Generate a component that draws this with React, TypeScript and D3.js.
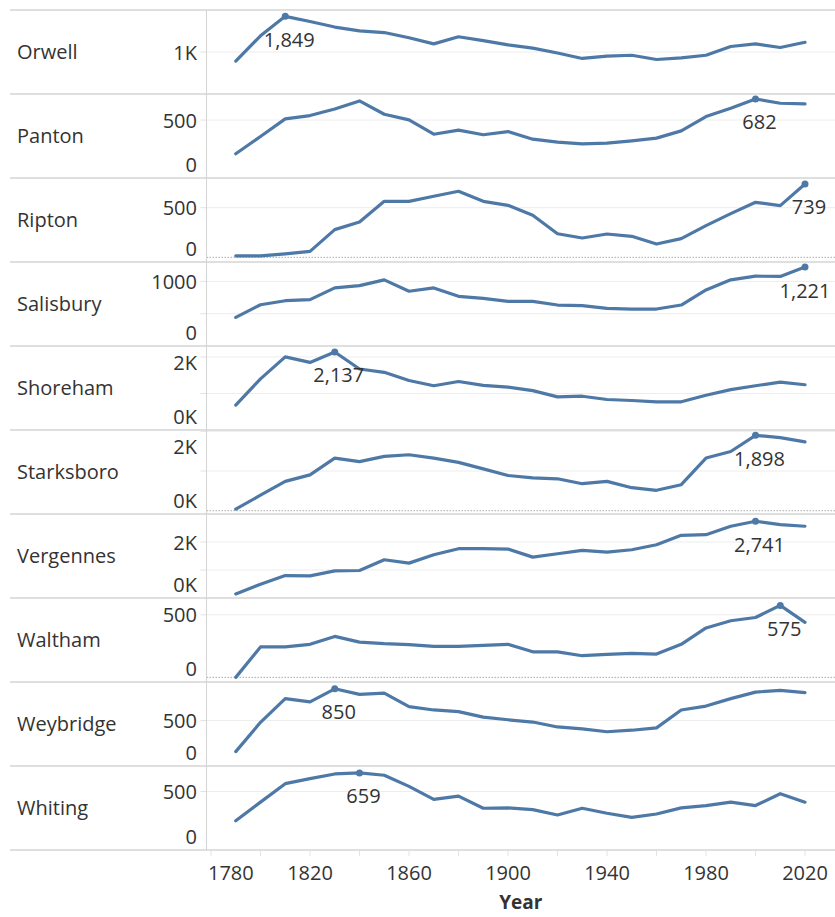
import * as d3 from 'd3';

const years = [1790, 1800, 1810, 1820, 1830, 1840, 1850, 1860, 1870, 1880, 1890, 1900,
  1910, 1920, 1930, 1940, 1950, 1960, 1970, 1980, 1990, 2000, 2010, 2020];

const towns = ['Orwell', 'Panton', 'Ripton', 'Salisbury', 'Shoreham',
  'Starksboro', 'Vergennes', 'Waltham', 'Weybridge', 'Whiting'];

const orwell = [784, 1386, 1849, 1726, 1594, 1502, 1463, 1340, 1193, 1363, 1270, 1170,
  1093, 977, 846, 900, 923, 822, 861, 923, 1131, 1193, 1108, 1232];
const panton = [209, 358, 510, 539, 596, 665, 550, 502, 378, 413, 373, 401,
  335, 310, 295, 301, 321, 344, 407, 530, 602, 682, 645, 639];
const ripton = [15, 15, 35, 60, 279, 356, 564, 564, 615, 665, 564, 524,
  423, 238, 195, 235, 212, 134, 188, 319, 440, 554, 521, 739];
const salisbury = [442, 639, 701, 717, 899, 935, 1024, 847, 899, 769, 738, 691,
  691, 634, 624, 582, 572, 572, 634, 868, 1024, 1081, 1076, 1221];
const shoreham = [682, 1401, 2002, 1850, 2137, 1670, 1580, 1356, 1212, 1329, 1221, 1176,
  1077, 907, 925, 835, 808, 772, 772, 952, 1104, 1212, 1311, 1239];
const starksboro = [41, 390, 738, 903, 1326, 1235, 1367, 1409, 1326, 1218, 1053, 887,
  829, 804, 680, 738, 580, 514, 655, 1326, 1492, 1898, 1840, 1732];
const vergennes = [144, 491, 802, 790, 970, 982, 1365, 1245, 1544, 1760, 1760, 1748,
  1460, 1580, 1700, 1640, 1724, 1903, 2238, 2262, 2562, 2741, 2621, 2562];
const waltham = [0, 243, 243, 264, 327, 282, 269, 261, 248, 248, 256, 264,
  204, 204, 173, 183, 191, 186, 264, 395, 452, 478, 575, 439];
const weybridge = [158, 481, 742, 706, 850, 789, 803, 653, 617, 599, 538, 509,
  484, 430, 409, 377, 394, 420, 617, 660, 742, 814, 832, 807];
const whiting = [250, 409, 567, 610, 650, 659, 639, 544, 432, 460, 357, 360,
  345, 299, 357, 314, 279, 308, 360, 380, 409, 380, 481, 409];

const series = [orwell, panton, ripton, salisbury, shoreham, starksboro, vergennes, waltham, weybridge, whiting];

// per-panel axis extents (independent axes)
const axisMin = [0, 0, -47, 0, 0, -83, 0, -37, 0, 0];
const axisMax = [2000, 725, 799, 1300, 2300, 2033, 3000, 634, 925, 718];

const gridValues = [[1000], [500], [500], [500, 1000], [1000, 2000], [1000, 2000],
  [1000, 2000], [500], [500], [500]];
const tickValues = [[1000], [0, 500], [0, 500], [0, 1000], [0, 2000], [0, 2000],
  [0, 2000], [0, 500], [0, 500], [0, 500]];
const tickText = [['1K'], ['0', '500'], ['0', '500'], ['0', '1000'], ['0K', '2K'], ['0K', '2K'],
  ['0K', '2K'], ['0', '500'], ['0', '500'], ['0', '500']];

const xTickYears = [1780, 1800, 1820, 1840, 1860, 1880, 1900, 1920, 1940, 1960, 1980, 2000, 2020];
const xLabelYears = [1780, 1820, 1860, 1900, 1940, 1980, 2020];

const W = 835;
const H = 917;
const top0 = 10;
const panelH = 84;
const axisX = 206.5;
const leftX = 10;
const rightX = 835;
const blue = '#4e79a7';
const textColor = '#333';
const fs = 20;

export default function App() {
  const x = d3.scaleLinear().domain([1780, 2020]).range([211, 805]);
  const fmt = d3.format(',');
  const bottomY = top0 + panelH * towns.length;

  return (
    <svg width={W} height={H}
      style={{ position: 'absolute', left: 0, top: 0, fontFamily: '"Open Sans", sans-serif' }}>
      <rect width={W} height={H} fill="#fff" />
      {towns.map((town, i) => {
        const top = top0 + i * panelH;
        const bottom = top + panelH;
        const y = d3.scaleLinear().domain([axisMin[i], axisMax[i]]).range([bottom, top]);
        const vals = series[i];
        const line = d3.line<number>()
          .x((_, j) => x(years[j]))
          .y(v => y(v));
        const mi = d3.maxIndex(vals);
        const px = x(years[mi]);
        const py = y(vals[mi]);
        const lbl = fmt(vals[mi]);
        const lw = lbl.length * 11.2;
        let lx = px + 4;
        if (lx + lw / 2 > 833) lx = 833 - lw / 2;
        return (
          <g key={town}>
            {gridValues[i].map(v => (
              <g key={v}>
                <line x1={axisX} x2={rightX} y1={y(v)} y2={y(v)} stroke="#ededed" strokeWidth={1} />
                <line x1={axisX - 6} x2={axisX} y1={y(v)} y2={y(v)} stroke="#e2e2e2" strokeWidth={1} />
              </g>
            ))}
            {axisMin[i] < 0 && (
              <line x1={axisX} x2={rightX} y1={y(0)} y2={y(0)} stroke="#aaa"
                strokeWidth={1} strokeDasharray="1.5 1.5" />
            )}
            <text x={17} y={(top + bottom) / 2 - 1} dominantBaseline="central"
              fontSize={fs} fill={textColor}>{town}</text>
            {tickValues[i].map((v, k) => {
              const ty = Math.max(top + 16, Math.min(bottom - 14, y(v)));
              return (
                <text key={v} x={197} y={ty} textAnchor="end" dominantBaseline="central"
                  fontSize={fs} fill={textColor}>{tickText[i][k]}</text>
              );
            })}
            <path d={line(vals) ?? ''} fill="none" stroke={blue} strokeWidth={3.2}
              strokeLinejoin="round" strokeLinecap="round" />
            <circle cx={px} cy={py} r={3.5} fill={blue} />
            <text x={lx} y={py + 23} textAnchor="middle" dominantBaseline="central"
              fontSize={fs} fill={textColor}>{lbl}</text>
          </g>
        );
      })}
      {d3.range(towns.length + 1).map(i => (
        <line key={i} x1={leftX} x2={rightX} y1={top0 + i * panelH} y2={top0 + i * panelH}
          stroke="#d4d4d4" strokeWidth={1.3} />
      ))}
      <line x1={axisX} x2={axisX} y1={top0} y2={bottomY} stroke="#d4d4d4" strokeWidth={1} />
      {xTickYears.map(yr => (
        <line key={yr} x1={x(yr)} x2={x(yr)} y1={bottomY} y2={bottomY + 6} stroke="#e2e2e2" strokeWidth={1} />
      ))}
      {xLabelYears.map((yr, k) => (
        <text key={yr} x={k === 0 ? 208 : x(yr)} y={880} textAnchor={k === 0 ? 'start' : 'middle'}
          fontSize={fs} fill={textColor}>{yr}</text>
      ))}
      <text x={(axisX + rightX) / 2} y={902} textAnchor="middle" dominantBaseline="central"
        fontSize={19} fontWeight="bold" fill={textColor}>Year</text>
    </svg>
  );
}
